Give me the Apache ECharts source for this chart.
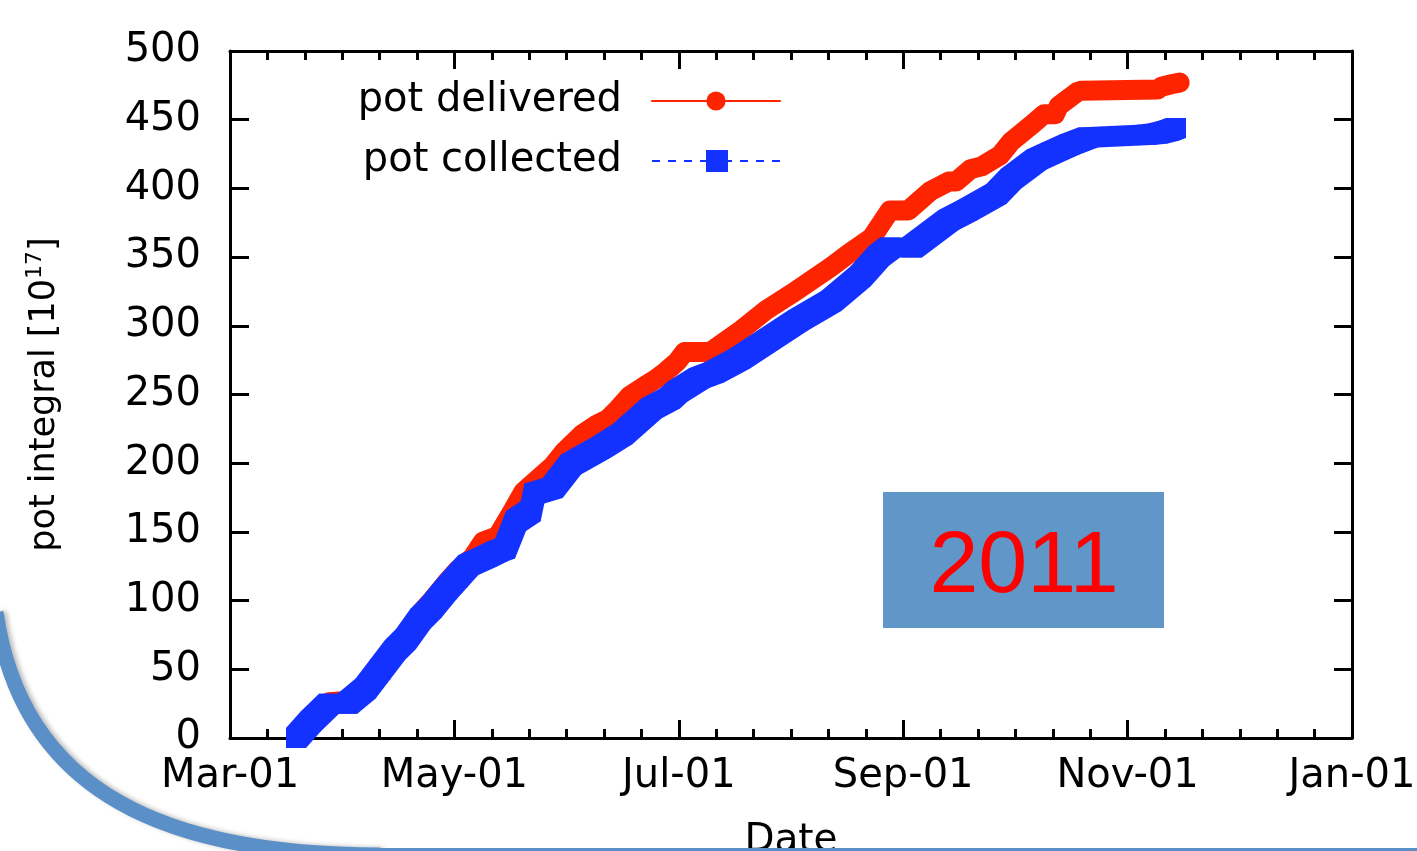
<!DOCTYPE html>
<html>
<head>
<meta charset="utf-8">
<script src="https://cdn.jsdelivr.net/npm/echarts@6/dist/echarts.min.js"></script>
<style>
  html, body { margin: 0; padding: 0; background: #ffffff; }
  #chart { width: 1417px; height: 851px; }
</style>
</head>
<body>
<div id="chart"></div>
<script>
// Accumulated protons on target, 2011 run
const startDate = '2011-03-01';
const tickLabels = ['Mar-01', 'May-01', 'Jul-01', 'Sep-01', 'Nov-01', 'Jan-01'];
const yMin = 0, yMax = 500, yStep = 50;

const deliveredDates = [
  '2011-03-19', '2011-03-23', '2011-03-28', '2011-04-02', '2011-04-07', '2011-04-11',
  '2011-04-15', '2011-04-18', '2011-04-22', '2011-04-25', '2011-04-29', '2011-05-02',
  '2011-05-06', '2011-05-09', '2011-05-13', '2011-05-17', '2011-05-20', '2011-05-25',
  '2011-05-28', '2011-05-31', '2011-06-05', '2011-06-09', '2011-06-12', '2011-06-15',
  '2011-06-18', '2011-06-22', '2011-06-25', '2011-06-28', '2011-07-01', '2011-07-03',
  '2011-07-10', '2011-07-18', '2011-07-25', '2011-08-01', '2011-08-06', '2011-08-12',
  '2011-08-17', '2011-08-23', '2011-08-28', '2011-09-02', '2011-09-08', '2011-09-13',
  '2011-09-15', '2011-09-19', '2011-09-22', '2011-09-27', '2011-09-30', '2011-10-06',
  '2011-10-09', '2011-10-12', '2011-10-13', '2011-10-18', '2011-10-19', '2011-11-09',
  '2011-11-10', '2011-11-13', '2011-11-15'
];
const deliveredPot = [
  0, 13, 26, 27, 38, 53,
  67, 76, 91, 100, 113, 122,
  131, 143, 147, 165, 179, 191,
  198, 208, 221, 228, 232, 240,
  249, 256, 261, 267, 274, 281,
  281, 296, 311, 323, 332, 343,
  353, 364, 384, 384, 398, 405,
  405, 414, 416, 424, 434, 447,
  454, 454, 460, 470, 471, 472,
  474, 476, 477
];

const collectedDates = [
  '2011-03-19', '2011-03-23', '2011-03-28', '2011-04-02', '2011-04-07', '2011-04-11',
  '2011-04-15', '2011-04-18', '2011-04-22', '2011-04-25', '2011-04-29', '2011-05-02',
  '2011-05-05', '2011-05-10', '2011-05-13', '2011-05-15', '2011-05-18', '2011-05-22',
  '2011-05-23', '2011-05-28', '2011-06-02', '2011-06-10', '2011-06-16', '2011-06-24',
  '2011-06-29', '2011-07-01', '2011-07-07', '2011-07-11', '2011-07-18', '2011-07-26',
  '2011-08-03', '2011-08-12', '2011-08-20', '2011-08-25', '2011-08-28', '2011-09-03',
  '2011-09-13', '2011-09-18', '2011-09-26', '2011-09-30', '2011-10-07', '2011-10-11',
  '2011-10-16', '2011-10-21', '2011-11-06', '2011-11-09', '2011-11-12', '2011-11-14'
];
const collectedPot = [
  0, 12, 25, 25, 36, 50,
  64, 72, 87, 95, 108, 117,
  126, 132, 136, 138, 158, 165,
  178, 182, 199, 211, 221, 240,
  247, 252, 262, 266, 276, 290,
  304, 318, 336, 351, 357, 357,
  377, 384, 396, 407, 421, 426,
  432, 437, 439, 440, 442, 444
];

// days elapsed since the start of the axis
const DAY = 86400000;
const t0 = Date.parse(startDate + 'T00:00:00Z');
const dayOf = s => (Date.parse(s + 'T00:00:00Z') - t0) / DAY;
const xSpan = dayOf('2012-01-01');          // axis ends on Jan 1st
const xStep = xSpan / (tickLabels.length - 1);

const deliveredData = deliveredDates.map((d, i) => [dayOf(d), deliveredPot[i]]);
// each point carries its predecessor so a square marker can be swept between them
const collectedData = collectedDates.map((d, i) => {
  const j = Math.max(i - 1, 0);
  return [dayOf(d), collectedPot[i], dayOf(collectedDates[j]), collectedPot[j]];
});

const RED = '#ff2400';
const BLUE = '#1432ff';
const FONT = 'DejaVu Sans';
const BLACK = '#000000';
const FRAME_BLUE = '#5b8fc7';

const frameLine = { show: true, lineStyle: { color: BLACK, width: 3 } };

const chart = echarts.init(document.getElementById('chart'), null, { renderer: 'canvas' });

chart.setOption({
  animation: false,
  backgroundColor: '#ffffff',
  grid: { left: 230, right: 65, top: 51, bottom: 113, outerBoundsMode: 'none', containLabel: false },
  legend: {
    orient: 'vertical',
    left: 352,
    top: 81,
    padding: 0,
    itemGap: 20,
    align: 'right',
    itemWidth: 128,
    itemHeight: 24,
    selectedMode: false,
    lineStyle: { width: 2 },
    textStyle: {
      fontFamily: FONT, fontSize: 40, color: BLACK,
      width: 270, lineHeight: 40, align: 'right', padding: [0, 25, 0, 0]
    },
    data: [
      { name: 'pot delivered' },
      {
        name: 'pot collected',
        icon: 'path://M0 11H8V13H0Z M16 11H24V13H16Z M32 11H40V13H32Z M48 11H54V13H48Z ' +
              'M54 1H76V23H54Z M76 11H80V13H76Z M88 11H96V13H88Z M104 11H112V13H104Z M120 11H128V13H120Z'
      }
    ]
  },
  xAxis: [
    {
      type: 'value', position: 'bottom', min: 0, max: xSpan, interval: xStep,
      name: 'Date', nameLocation: 'middle', nameGap: 83,
      nameTextStyle: { fontFamily: FONT, fontSize: 39, color: BLACK },
      axisLine: { ...frameLine, onZero: false },
      axisTick: { show: true, inside: true, length: 18, lineStyle: { color: BLACK, width: 3 } },
      minorTick: { show: true, splitNumber: 6, length: 9, lineStyle: { color: BLACK, width: 3 } },
      splitLine: { show: false },
      axisLabel: {
        show: true, margin: 19, fontFamily: FONT, fontSize: 40, color: BLACK,
        showMinLabel: true, showMaxLabel: true,
        formatter: v => tickLabels[Math.round(v / xStep)] || ''
      }
    },
    {
      type: 'value', position: 'top', min: 0, max: xSpan, interval: xStep,
      axisLine: { ...frameLine, onZero: false },
      axisTick: { show: true, inside: true, length: 18, lineStyle: { color: BLACK, width: 3 } },
      minorTick: { show: true, splitNumber: 6, length: 9, lineStyle: { color: BLACK, width: 3 } },
      splitLine: { show: false },
      axisLabel: { show: false }
    }
  ],
  yAxis: [
    {
      type: 'value', position: 'left', min: yMin, max: yMax, interval: yStep,
      name: '{t|pot integral [10}{s|17}{t|]}',
      nameLocation: 'middle', nameRotate: 90, nameGap: 164,
      nameTextStyle: {
        rich: {
          t: { fontFamily: FONT, fontSize: 35, color: BLACK, lineHeight: 42 },
          s: { fontFamily: FONT, fontSize: 22, color: BLACK, verticalAlign: 'top', lineHeight: 24 }
        }
      },
      axisLine: { ...frameLine, onZero: false },
      axisTick: { show: true, inside: true, length: 19, lineStyle: { color: BLACK, width: 3 } },
      splitLine: { show: false },
      axisLabel: { show: true, margin: 29, fontFamily: FONT, fontSize: 40, color: BLACK }
    },
    {
      type: 'value', position: 'right', min: yMin, max: yMax, interval: yStep,
      axisLine: { ...frameLine, onZero: false },
      axisTick: { show: true, inside: true, length: 18, lineStyle: { color: BLACK, width: 3 } },
      splitLine: { show: false },
      axisLabel: { show: false }
    }
  ],
  series: [
    {
      name: 'pot delivered',
      type: 'line',
      xAxisIndex: 0, yAxisIndex: 0,
      data: deliveredData,
      symbol: 'circle',
      showSymbol: false,
      clip: false,
      color: RED,
      itemStyle: { color: RED },
      lineStyle: { color: RED, width: 20, cap: 'round', join: 'round' },
      z: 2
    },
    {
      name: 'pot collected',
      type: 'custom',
      xAxisIndex: 0, yAxisIndex: 0,
      data: collectedData,
      encode: { x: 0, y: 1 },
      color: BLUE,
      itemStyle: { color: BLUE },
      clip: false,
      z: 3,
      renderItem: (params, api) => {
        const a = api.coord([api.value(2), api.value(3)]);
        const b = api.coord([api.value(0), api.value(1)]);
        const h = 10;
        return {
          type: 'polygon',
          shape: {
            points: [
              [a[0] - h, a[1] + h], [a[0] - h, a[1] - h],
              [b[0] - h, b[1] - h], [b[0] + h, b[1] - h],
              [b[0] + h, b[1] + h], [a[0] + h, a[1] + h]
            ]
          },
          style: { fill: BLUE, stroke: null }
        };
      }
    }
  ],
  graphic: [
    {
      type: 'rect',
      z: 50,
      shape: { x: 883, y: 492, width: 281, height: 136 },
      style: { fill: '#6196c9' }
    },
    {
      type: 'text',
      z: 51,
      x: 1024, y: 568,
      style: {
        text: '2011', fill: '#ff0000',
        font: '88px "Liberation Sans"',
        align: 'center', verticalAlign: 'middle'
      }
    },
    {
      type: 'bezierCurve',
      z: 60,
      shape: { x1: -4, y1: 612, cpx1: 22, cpy1: 795, cpx2: 170, cpy2: 855, x2: 380, y2: 855 },
      style: {
        fill: null, stroke: FRAME_BLUE, lineWidth: 15,
        shadowColor: 'rgba(0,0,0,0.28)', shadowBlur: 5, shadowOffsetX: 3, shadowOffsetY: 0
      }
    },
    {
      type: 'line',
      z: 60,
      shape: { x1: 370, y1: 855, x2: 1440, y2: 855 },
      style: { stroke: FRAME_BLUE, lineWidth: 14 }
    }
  ]
});
</script>
</body>
</html>
